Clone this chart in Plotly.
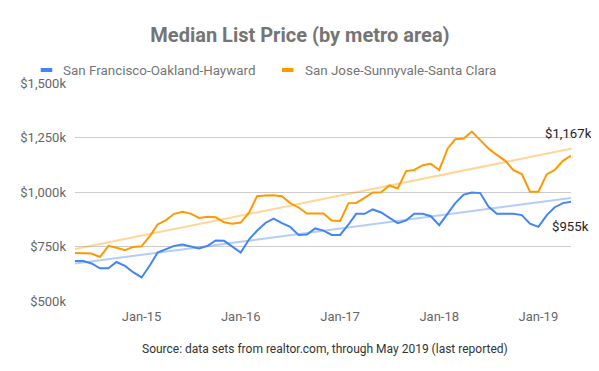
import numpy as np
import pandas as pd
import plotly.graph_objects as go

# ---- data (thousands of USD), monthly May 2014 .. May 2019 ----
months = pd.date_range("2014-05-01", periods=61, freq="MS")

series_names = ["San Francisco-Oakland-Hayward", "San Jose-Sunnyvale-Santa Clara"]
series_colors = ["#4285F4", "#FF9900"]

sf_values = [
    683, 683, 672, 650, 650, 679, 661, 632,
    608, 664, 722, 738, 753, 759, 750, 741, 753, 778, 776, 750,
    722, 783, 822, 858, 878, 857, 840, 803, 805, 833, 823, 803,
    803, 851, 900, 900, 920, 906, 883, 857, 870, 900, 900, 889,
    848, 903, 949, 988, 998, 995, 933, 900, 900, 900, 894, 855,
    840, 894, 929, 949, 955,
]
sj_values = [
    720, 719, 718, 702, 753, 744, 733, 748,
    751, 799, 851, 871, 900, 909, 901, 881, 886, 884, 861, 854,
    860, 906, 981, 984, 985, 981, 949, 929, 901, 901, 901, 869,
    867, 949, 950, 973, 998, 999, 1030, 1016, 1096, 1101, 1123, 1129,
    1101, 1200, 1242, 1245, 1277, 1238, 1200, 1170, 1143, 1100, 1082, 1001,
    1001, 1082, 1100, 1143, 1167,
]

x_tick_vals = ["2015-01-01", "2016-01-01", "2017-01-01", "2018-01-01", "2019-01-01"]
x_tick_text = ["Jan-15", "Jan-16", "Jan-17", "Jan-18", "Jan-19"]
y_tick_vals = [500, 750, 1000, 1250, 1500]
y_tick_text = ["$500k", "$750k", "$1,000k", "$1,250k", "$1,500k"]

title_text = "Median List Price (by metro area)"
source_text = "Source: data sets from realtor.com, through May 2019 (last reported)"

all_values = [sf_values, sj_values]

# page body adds an 8px margin; size the figure so it fits the 599x371 window
OFF = 8
W, H = 599 - OFF, 371 - OFF
# plot area in window pixels
L, R, T, B = 75, 571, 83, 301

fig = go.Figure()
idx = np.arange(len(months))

# trendlines (linear fit)
for vals, col in zip(all_values, series_colors):
    slope, intercept = np.polyfit(idx, np.array(vals, dtype=float), 1)
    fit = slope * idx + intercept
    fig.add_trace(go.Scatter(
        x=[months[0], months[-1]], y=[fit[0], fit[-1]], mode="lines",
        line=dict(color=col, width=2), opacity=0.4, showlegend=False,
        hoverinfo="skip"))

for vals, name, col in zip(all_values, series_names, series_colors):
    fig.add_trace(go.Scatter(
        x=months, y=vals, mode="lines", name=name,
        line=dict(color=col, width=2), showlegend=False))

# end labels
fig.add_annotation(x=months[-1], y=sj_values[-1], text="$1,167k", showarrow=False,
                   yshift=22, xshift=-3, font=dict(size=13.2, color="#222222"))
fig.add_annotation(x=months[-1], y=sf_values[-1], text="$955k", showarrow=False,
                   yshift=-25, xshift=-1, font=dict(size=13.2, color="#222222"))

def px(xp):
    return (xp - L) / (R - L)
def py(yp):
    return (B - yp) / (B - T)

# manual legend
legend_pos = [(40.7, 60.7), (282, 303)]
for (sx, tx), name, col in zip(legend_pos, series_names, series_colors):
    fig.add_shape(type="rect", xref="paper", yref="paper",
                  x0=px(sx), x1=px(sx + 11.5), y0=py(72), y1=py(68),
                  fillcolor=col, line=dict(width=0))
    fig.add_annotation(xref="paper", yref="paper", x=px(tx), y=py(70.5),
                       xanchor="left", yanchor="middle", text=name, showarrow=False,
                       font=dict(size=13.4, color="#757575"))

fig.add_annotation(xref="paper", yref="paper", x=px(325), y=py(349), xanchor="center",
                   yanchor="middle", text=source_text, showarrow=False,
                   font=dict(size=12, color="#333333"))

fig.update_layout(
    width=W, height=H,
    margin=dict(l=L - OFF, r=W - (R - OFF), t=T - OFF, b=H - (B - OFF)),
    paper_bgcolor="white", plot_bgcolor="white",
    font=dict(family="Roboto, Arial, sans-serif", color="#666666", size=13),
    title=dict(text="<b>" + title_text + "</b>", x=(300 - OFF) / W, xref="container",
               xanchor="center", y=1 - (34.5 - OFF) / H, yanchor="middle",
               font=dict(size=20, color="#757575")),
    showlegend=False,
)
fig.update_xaxes(range=[months[0], months[-1]], tickvals=x_tick_vals, ticktext=x_tick_text,
                 showgrid=False, zeroline=False, showline=False, ticks="",
                 ticklabelstandoff=6, tickfont=dict(size=13, color="#666666"))
fig.update_yaxes(range=[500, 1500], tickvals=y_tick_vals, ticktext=y_tick_text,
                 showgrid=True, gridcolor="#cccccc", gridwidth=1, zeroline=False,
                 showline=False, ticks="", ticklabelstandoff=8,
                 tickfont=dict(size=13, color="#666666"))

fig.write_html("out.html")
